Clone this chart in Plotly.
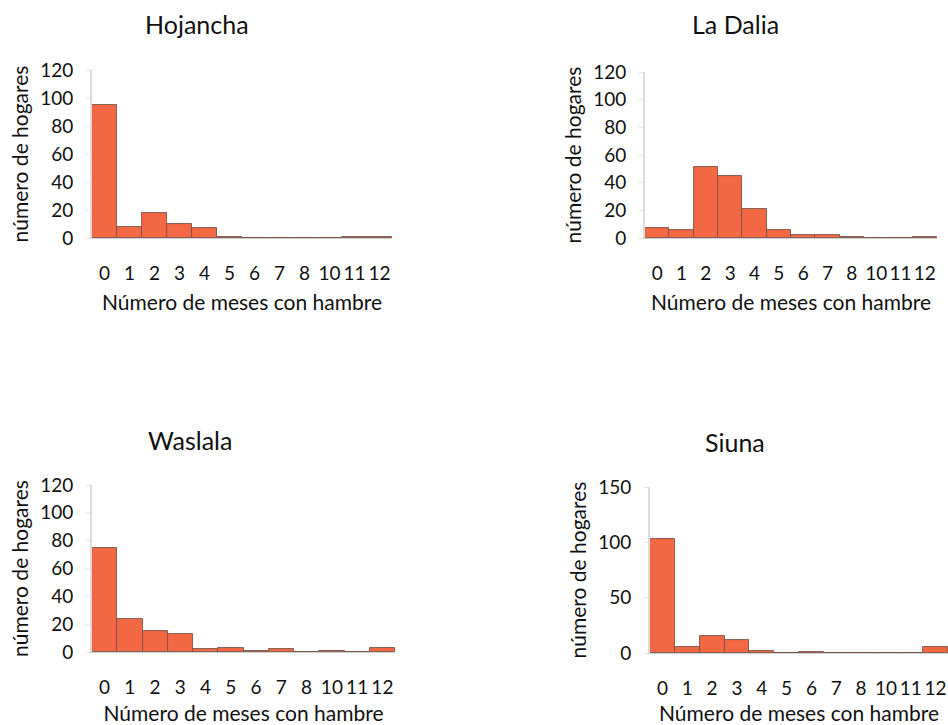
import plotly.graph_objects as go

months = ["0", "1", "2", "3", "4", "5", "6", "7", "8", "10", "11", "12"]

hojancha = [95, 8, 18, 10, 7, 1, 0, 0, 0, 0, 1, 1]
la_dalia = [7, 6, 51, 45, 21, 6, 2, 2, 1, 0, 0, 1]
waslala = [75, 24, 15, 13, 2, 3, 1, 2, 0, 1, 0, 3]
siuna = [103, 5, 15, 12, 2, 0, 1, 0, 0, 0, 0, 5]

titles = ["Hojancha", "La Dalia", "Waslala", "Siuna"]
series = [hojancha, la_dalia, waslala, siuna]
y_ranges = [[0, 120], [0, 120], [0, 120], [0, 150]]
y_dtick = [20, 20, 20, 50]

FONT = "Lato"
BAR = "#f26843"

W, H = 948, 725
# plot areas in pixel units (left, right, top, bottom)
boxes = [
    (92, 392, 70, 238),
    (645, 937, 72, 238),
    (92, 395, 485, 652),
    (650, 950, 487, 653),
]
title_pos = [(197, 24), (735, 24), (190, 440), (735, 442)]

fig = go.Figure()
for i, (name, vals) in enumerate(zip(titles, series)):
    ax = "" if i == 0 else str(i + 1)
    fig.add_trace(go.Bar(
        x=months, y=vals, name=name,
        marker=dict(color=BAR, line=dict(color="#7a5548", width=0.9)),
        xaxis="x" + ax, yaxis="y" + ax, showlegend=False,
    ))
    l, r, t, b = boxes[i]
    fig.layout["xaxis" + ax] = dict(
        domain=[l / W, min(r / W, 1.0)], anchor="y" + ax,
        type="category", showline=True, linecolor="#d0d0d0", linewidth=1,
        ticks="", ticklabelstandoff=18, showgrid=False, zeroline=False,
        automargin=False,
        tickfont=dict(family=FONT, size=19, color="#111"),
        title=dict(text="Número de meses con hambre",
                   font=dict(family=FONT, size=21, color="#111"), standoff=12),
        fixedrange=True,
    )
    fig.layout["yaxis" + ax] = dict(
        domain=[1 - b / H, 1 - t / H], anchor="x" + ax,
        range=y_ranges[i], dtick=y_dtick[i],
        showline=True, linecolor="#dcdcdc", linewidth=2,
        ticks="outside", ticklen=4, tickcolor="#e6e6e6",
        ticklabelstandoff=9, automargin=False,
        showgrid=False, zeroline=False,
        tickfont=dict(family=FONT, size=19, color="#111"),
        title=dict(text="número de hogares",
                   font=dict(family=FONT, size=21, color="#111"), standoff=6),
        fixedrange=True,
    )
    fig.add_annotation(
        text=titles[i], x=title_pos[i][0] / W, y=1 - title_pos[i][1] / H,
        xref="paper", yref="paper", showarrow=False,
        xanchor="center", yanchor="middle",
        font=dict(family=FONT, size=25, color="#111"),
    )

fig.update_layout(
    width=W, height=H,
    margin=dict(l=0, r=0, t=0, b=0),
    paper_bgcolor="white", plot_bgcolor="white",
    bargap=0,
)

fig.write_html("out.html",
               config={"displayModeBar": False},
               post_script="document.body.style.margin='0';")
